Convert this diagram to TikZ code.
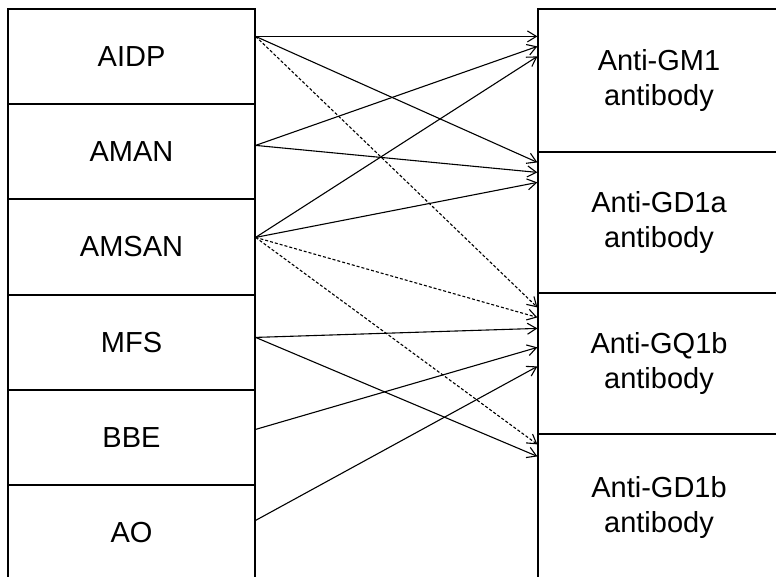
\documentclass[tikz,border=0pt]{standalone}
\usepackage{fontspec}
\setmainfont{Liberation Sans}
\usetikzlibrary{arrows.meta,calc}
\begin{document}
\begin{tikzpicture}[x=1pt,y=-1pt,
  lbox/.style={draw,line width=1.2pt,minimum width=247pt,inner sep=0pt,
    font=\fontsize{29}{35}\selectfont},
  rbox/.style={draw,line width=1.2pt,minimum width=242pt,inner sep=0pt,align=center,
    font=\fontsize{29}{35}\selectfont},
  link/.style={line width=1.1pt,-{Straight Barb[length=9pt,width=11pt,line width=1.1pt]}},
  dlink/.style={link,dash pattern=on 3pt off 2pt}]
\useasboundingbox (0,0) rectangle (776,576);
\clip (0,0) rectangle (776,576);
\fill[white] (0,0) rectangle (776,576);
% left column
\node[lbox,minimum height=95pt] (aidp) at (131.5,56.5) {AIDP};
\node[lbox,minimum height=95pt] (aman) at (131.5,151.5) {AMAN};
\node[lbox,minimum height=96pt] (amsan) at (131.5,247) {AMSAN};
\node[lbox,minimum height=95pt] (mfs) at (131.5,342.5) {MFS};
\node[lbox,minimum height=95pt] (bbe) at (131.5,437.5) {BBE};
\node[lbox,minimum height=95pt] (ao) at (131.5,532.5) {AO};
% right column
\node[rbox,minimum height=143pt] (gm1) at (659,80.5) {Anti-GM1\\antibody};
\node[rbox,minimum height=141pt] (gd1a) at (659,222.5) {Anti-GD1a\\antibody};
\node[rbox,minimum height=141pt] (gq1b) at (659,363.5) {Anti-GQ1b\\antibody};
\node[rbox,minimum height=146pt] (gd1b) at (659,507) {Anti-GD1b\\antibody};
% start points
\coordinate (sAIDP) at ($(aidp.north east)+(0,28)$);
\coordinate (sAMAN) at ($(aman.north east)+(0,42)$);
\coordinate (sAMSAN) at ($(amsan.north east)+(0,39)$);
\coordinate (sMFS) at ($(mfs.north east)+(0,43)$);
\coordinate (sBBE) at ($(bbe.north east)+(0,40)$);
\coordinate (sAO) at ($(ao.north east)+(0,36)$);
% end points
\coordinate (e11) at ($(gm1.north west)+(0,28)$);
\coordinate (e12) at ($(gm1.north west)+(0,38)$);
\coordinate (e13) at ($(gm1.north west)+(0,48)$);
\coordinate (e21) at ($(gd1a.north west)+(0,11)$);
\coordinate (e22) at ($(gd1a.north west)+(0,21)$);
\coordinate (e23) at ($(gd1a.north west)+(0,31)$);
\coordinate (e31) at ($(gq1b.north west)+(0,15)$);
\coordinate (e32) at ($(gq1b.north west)+(0,25)$);
\coordinate (e33) at ($(gq1b.north west)+(0,36)$);
\coordinate (e34) at ($(gq1b.north west)+(0,55)$);
\coordinate (e35) at ($(gq1b.north west)+(0,74)$);
\coordinate (e41) at ($(gd1b.north west)+(0,11)$);
\coordinate (e42) at ($(gd1b.north west)+(0,23)$);
% connectors
\draw[link] (sAIDP) -- (e11);
\draw[link] (sAIDP) -- (e21);
\draw[dlink] (sAIDP) -- (e31);
\draw[link] (sAMAN) -- (e12);
\draw[link] (sAMAN) -- (e22);
\draw[link] (sAMSAN) -- (e13);
\draw[link] (sAMSAN) -- (e23);
\draw[dlink] (sAMSAN) -- (e32);
\draw[dlink] (sAMSAN) -- (e41);
\draw[link] (sMFS) -- (e33);
\draw[link] (sMFS) -- (e42);
\draw[link] (sBBE) -- (e34);
\draw[link] (sAO) -- (e35);
\end{tikzpicture}
\end{document}
